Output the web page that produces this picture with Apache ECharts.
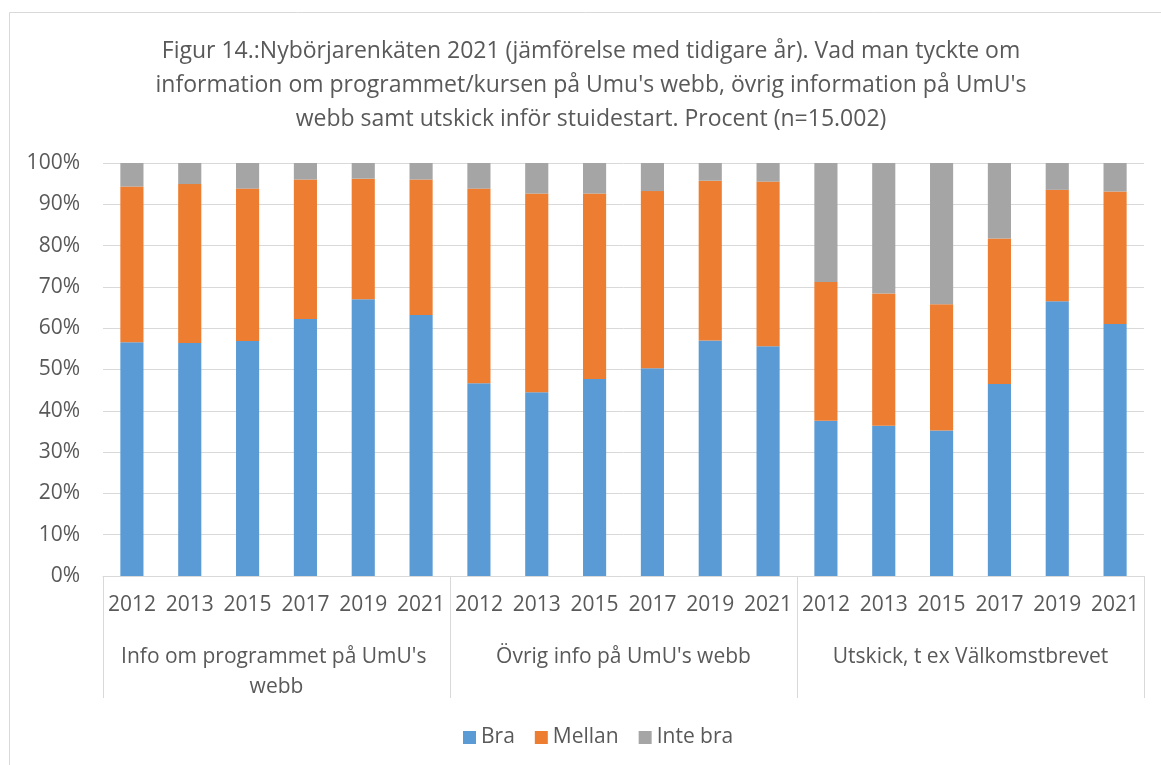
<!DOCTYPE html>
<html>
  <head>
    <meta charset="utf-8" />
    <style>
      html, body {margin: 0; padding: 0; background: #fff;}
      #chart {width: 1161px; height: 765px;}
    </style>
    <script src="https://cdn.jsdelivr.net/npm/echarts@6/dist/echarts.min.js"></script>
  </head>
  <body>
    <div id="chart"></div>
    <script type="text/javascript">
      // category labels
      var years = ['2012', '2013', '2015', '2017', '2019', '2021',
                   '2012', '2013', '2015', '2017', '2019', '2021',
                   '2012', '2013', '2015', '2017', '2019', '2021'];
      var groups = ["Info om programmet på UmU's webb",
                    "Övrig info på UmU's webb",
                    'Utskick, t ex Välkomstbrevet'];

      // percent values
      var bra = [56.6, 56.4, 56.9, 62.2, 67.0, 63.2,
                 46.7, 44.5, 47.7, 50.3, 57.0, 55.6,
                 37.6, 36.4, 35.2, 46.5, 66.5, 61.0];
      var mellan = [37.7, 38.5, 36.9, 33.8, 29.2, 32.8,
                    47.1, 48.1, 44.9, 42.9, 38.7, 39.9,
                    33.6, 32.0, 30.6, 35.2, 27.0, 32.1];
      var inteBra = [5.7, 5.1, 6.2, 4.0, 3.8, 4.0,
                     6.2, 7.4, 7.4, 6.8, 4.3, 4.5,
                     28.8, 31.6, 34.2, 18.3, 6.5, 6.9];

      var font = 'Open Sans';
      var txt = '#595959';

      var chart = echarts.init(document.getElementById('chart'));

      var option = {
        animation: false,
        textStyle: {fontFamily: font},
        title: {
          text: "Figur 14.:Nybörjarenkäten 2021 (jämförelse med tidigare år). Vad man tyckte om\ninformation om programmet/kursen på Umu's webb, övrig information på UmU's\nwebb samt utskick inför stuidestart. Procent (n=15.002)",
          left: 586,
          top: 29,
          textAlign: 'center',
          textStyle: {
            fontFamily: font,
            fontSize: 23,
            fontWeight: 'normal',
            color: txt,
            lineHeight: 34
          }
        },
        legend: {
          data: ['Bra', 'Mellan', 'Inte bra'],
          left: 458,
          top: 722,
          itemWidth: 13,
          itemHeight: 13,
          itemGap: 20,
          icon: 'rect',
          textStyle: {fontFamily: font, fontSize: 21, color: txt}
        },
        grid: {left: 103, right: 17, top: 163, bottom: 189, containLabel: false},
        xAxis: [
          {
            type: 'category',
            data: years,
            position: 'bottom',
            axisLine: {lineStyle: {color: '#d9d9d9'}},
            axisTick: {show: false},
            axisLabel: {interval: 0, margin: 19, fontSize: 21, color: txt, fontFamily: font}
          },
          {
            type: 'category',
            data: groups,
            position: 'bottom',
            axisLine: {show: false},
            axisTick: {show: true, interval: 0, length: 122, lineStyle: {color: '#d9d9d9'}},
            axisLabel: {
              interval: 0, margin: 66, fontSize: 21, color: txt, fontFamily: font,
              width: 325, overflow: 'break', lineHeight: 30
            }
          }
        ],
        yAxis: {
          type: 'value',
          min: 0,
          max: 100,
          interval: 10,
          axisLine: {show: false},
          axisTick: {show: false},
          splitLine: {lineStyle: {color: '#d9d9d9'}},
          axisLabel: {formatter: '{value}%', margin: 23, fontSize: 21, color: txt, fontFamily: font}
        },
        series: [
          {name: 'Bra', type: 'bar', stack: 'a', barWidth: '40%', data: bra,
           itemStyle: {color: '#5b9bd5'}},
          {name: 'Mellan', type: 'bar', stack: 'a', data: mellan,
           itemStyle: {color: '#ed7d31'}},
          {name: 'Inte bra', type: 'bar', stack: 'a', data: inteBra,
           itemStyle: {color: '#a5a5a5'}}
        ],
        graphic: [{
          type: 'rect',
          shape: {x: 9.5, y: 12.5, width: 1300, height: 900},
          style: {fill: 'none', stroke: '#d9d9d9', lineWidth: 1},
          silent: true
        }]
      };

      chart.setOption(option);
    </script>
  </body>
</html>
